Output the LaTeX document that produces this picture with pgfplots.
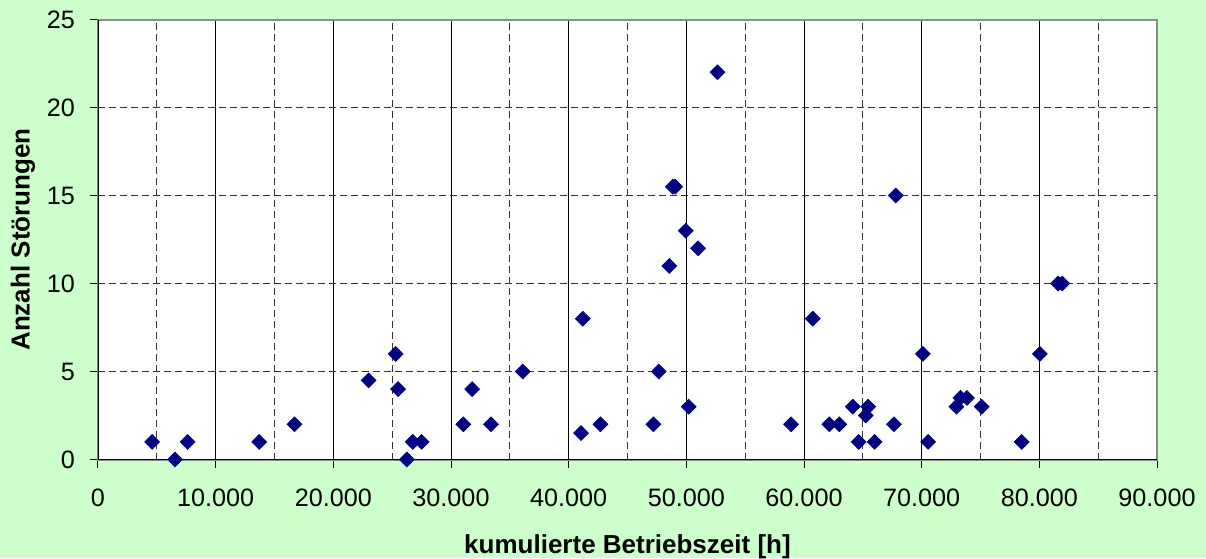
\documentclass[border=0pt]{standalone}
\usepackage{pgfplots}
\pgfplotsset{compat=1.18}
\usepackage{fontspec}
\setmainfont{Liberation Sans}
\definecolor{bg}{HTML}{CCFFCC}
\definecolor{navy}{HTML}{000080}
\definecolor{gridc}{HTML}{333333}
\begin{document}
\begin{tikzpicture}
\fill[bg] (-49pt,-49.25pt) rectangle (554pt,229.75pt);
\useasboundingbox (-49pt,-49.25pt) rectangle (554pt,229.75pt);
\begin{axis}[
  at={(0pt,0pt)}, anchor=south west,
  scale only axis, width=529.5pt, height=220pt,
  xmin=0, xmax=90000, ymin=0, ymax=25,
  xtick={0,10000,...,90000},
  minor xtick={5000,15000,...,85000},
  ytick={0,5,...,25},
  xmajorgrids, xminorgrids,
  major grid style={black, line width=0.5pt, solid},
  minor grid style={gridc, line width=0.5pt, dash pattern=on 3.5pt off 2pt},
  axis background/.style={fill=white},
  axis line style={draw=gray!90, line width=1pt},
  tick align=outside, xtick pos=bottom, ytick pos=left,
  major tick length=4pt, minor tick length=0pt,
  tick style={black, line width=0.5pt},
  scaled ticks=false,
  /pgf/number format/.cd, 1000 sep={.}, assume math mode=true,
  /pgfplots/.cd,
  tick label style={font=\fontsize{12.6}{14}\selectfont},
  xticklabel style={yshift=-7pt},
  yticklabel style={xshift=-4pt},
  xlabel={kumulierte Betriebszeit [h]},
  ylabel={Anzahl Störungen},
  every axis x label/.style={at={(axis description cs:0.5,0)}, yshift=-43.5pt, anchor=center, font=\fontsize{13}{15}\selectfont\bfseries},
  every axis y label/.style={at={(axis description cs:0,0.5)}, xshift=-37.5pt, rotate=90, anchor=center, font=\fontsize{13}{15}\selectfont\bfseries},
]
\pgfplotsinvokeforeach{5,10,15,20}{
  \draw[gridc, line width=0.5pt, dash pattern=on 3.5pt off 2pt] (axis cs:0,#1) -- (axis cs:90000,#1);
}
\addplot[only marks, mark=square*, mark size=2.6pt, mark options={fill=navy, draw=navy, rotate=45}] table {
x y
4600 1
6550 0
7620 1
13700 1
16700 2
23000 4.5
25300 6
25500 4
26250 0
26750 1
27500 1
31050 2
31800 4
33400 2
36100 5
41200 8
41050 1.5
42700 2
47200 2
47650 5
48550 11
48850 15.5
49050 15.5
49950 13
50200 3
51000 12
52650 22
58900 2
60750 8
62150 2
63000 2
64150 3
64650 1
65250 2.5
65450 3
66000 1
67650 2
67800 15
70100 6
70550 1
72950 3
73300 3.5
73850 3.5
75100 3
78500 1
80050 6
81600 10
81950 10
};
\draw[black, line width=1pt] (rel axis cs:0,1) -- (rel axis cs:0,0) -- (rel axis cs:1,0);
\end{axis}
\end{tikzpicture}
\end{document}
